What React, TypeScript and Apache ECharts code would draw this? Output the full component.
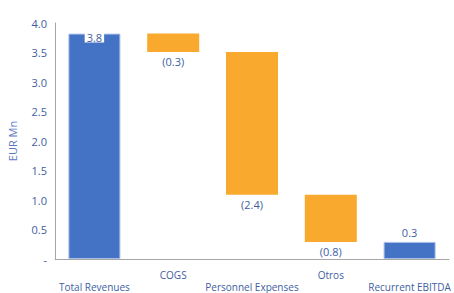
import React, { useEffect, useRef } from "react";
import * as echarts from "echarts";

const categories = ["Total Revenues", "COGS", "Personnel Expenses", "Otros", "Recurrent EBITDA"];
const baseValues = [0, 3.51, 1.09, 0.29, 0];
const barValues = [3.82, 0.31, 2.42, 0.8, 0.29];
const labelTexts = ["3.8", "(0.3)", "(2.4)", "(0.8)", "0.3"];
const isTotal = [true, false, false, false, true];
const yTicks = ["-", "0.5", "1.0", "1.5", "2.0", "2.5", "3.0", "3.5", "4.0"];

const TEXT = "#41609F";
const BLUE = "#4472C4";
const ORANGE = "#F9A92E";
const FONT = "'Open Sans', sans-serif";

export default function App() {
  const ref = useRef<HTMLDivElement>(null);
  useEffect(() => {
    const chart = echarts.init(ref.current!, null, { renderer: "svg" });
    chart.setOption({
      animation: false,
      grid: { left: 55, right: 5, top: 23, bottom: 34, containLabel: false, outerBoundsMode: "none" },
      xAxis: {
        type: "category",
        data: categories,
        axisLine: { lineStyle: { color: "#A6A6A6", width: 1 } },
        axisTick: { show: false },
        axisLabel: {
          interval: 0,
          color: TEXT,
          fontFamily: FONT,
          fontSize: 10,
          margin: 10,
          lineHeight: 12,
          formatter: (v: string, i: number) => (i % 2 === 0 ? "\n" + v : v),
        },
      },
      yAxis: {
        type: "value",
        min: 0,
        max: 4,
        interval: 0.5,
        name: "EUR Mn",
        nameLocation: "middle",
        nameGap: 37,
        nameRotate: 90,
        nameTextStyle: { color: "#5B7BBF", fontFamily: FONT, fontSize: 11 },
        axisLine: { show: true, lineStyle: { color: "#A6A6A6", width: 1 } },
        axisTick: { show: false },
        splitLine: { show: false },
        axisLabel: {
          color: TEXT,
          fontFamily: FONT,
          fontSize: 11,
          margin: 8,
          formatter: (v: number) => yTicks[Math.round(v / 0.5)],
        },
      },
      series: [
        {
          type: "bar",
          stack: "wf",
          data: baseValues,
          itemStyle: { color: "transparent" },
          silent: true,
          barWidth: "66%",
        },
        {
          type: "bar",
          stack: "wf",
          barWidth: "66%",
          data: barValues.map((v, i) => ({
            value: v,
            itemStyle: {
              color: isTotal[i] ? BLUE : ORANGE,
              borderColor: isTotal[i] ? "#A9BFE6" : ORANGE,
              borderWidth: isTotal[i] ? 1 : 0,
            },
            label: {
              show: true,
              formatter: labelTexts[i],
              color: TEXT,
              fontFamily: FONT,
              fontSize: 11,
              position: isTotal[i] ? "top" : "bottom",
              distance: i === 0 ? -9 : 4,
              backgroundColor: i === 0 ? "#FFFFFF" : "transparent",
              padding: i === 0 ? [0, 2, 0, 2] : 0,
            },
          })),
        },
      ],
    });
    return () => chart.dispose();
  }, []);
  return (
    <div
      ref={ref}
      style={{ position: "fixed", left: 0, top: 0, width: 454, height: 293, background: "#fff" }}
    />
  );
}
